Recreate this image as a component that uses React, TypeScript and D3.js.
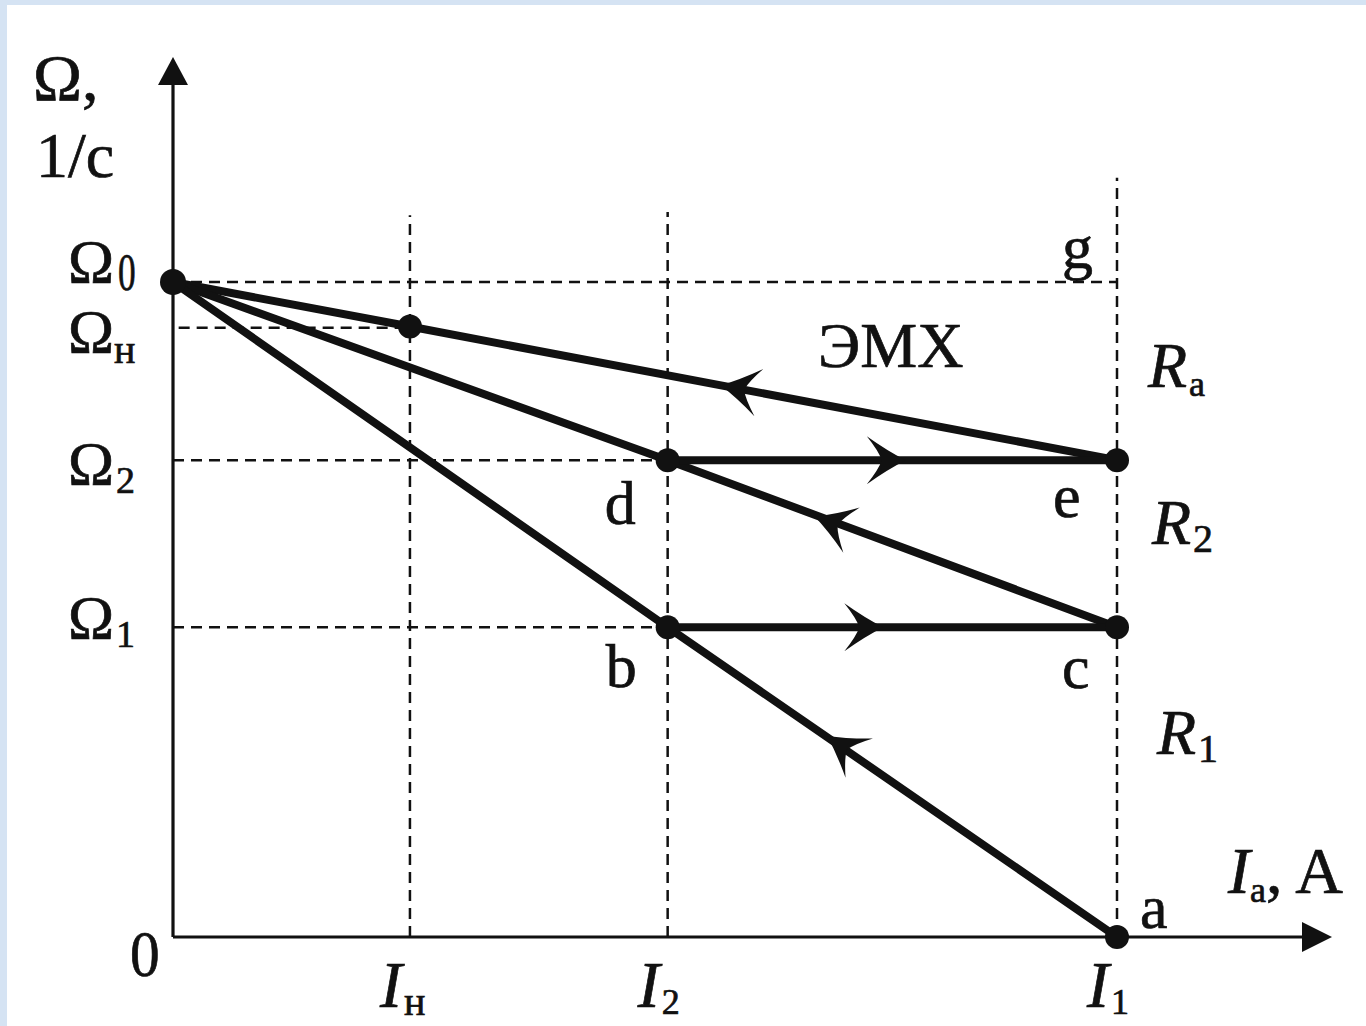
import * as d3 from 'd3';

// currents (x) in % of I1, speeds (y) in % of Ω0
const currentValues = [25.1, 52.4, 100];
const currentMain = ['I', 'I', 'I'];
const currentSubs = ['н', '2', '1'];
const currentGuideTops = [110.2, 110.7, 115.9];

const speedValues = [100, 93, 72.8, 47.3];
const speedSubs = ['0', 'н', '2', '1'];
const speedGuideEnds = [100, 25.1, 52.4, 52.4];
const speedGuideStarts = [0, 0.6, 0, 0];

// characteristics: natural (ЭМХ), R2 and R1
const naturalLine: [number, number][] = [[0, 100], [25.1, 93.2], [100, 72.8]];
const r2Line: [number, number][] = [[0, 100], [52.4, 72.8], [100, 47.3]];
const r1Line: [number, number][] = [[0, 100], [52.4, 47.3], [100, 0]];
const jumpLines: [number, number][][] = [
  [[52.4, 72.8], [100, 72.8]],
  [[52.4, 47.3], [100, 47.3]],
];

const dots: [number, number][] = [
  [25.1, 93.2], [52.4, 72.8], [52.4, 47.3], [100, 72.8], [100, 47.3], [100, 0],
];

// arrow heads: segment start, segment end, fraction along it
const arrowFrom: [number, number][] = [[100, 72.8], [52.4, 72.8], [100, 47.3], [52.4, 47.3], [100, 0]];
const arrowTo: [number, number][] = [[0, 100], [100, 72.8], [0, 100], [100, 47.3], [0, 100]];
const arrowAt = [0.42, 0.53, 0.32, 0.48, 0.307];

const pointLabels = ['a', 'b', 'c', 'd', 'e', 'g'];
const pointLabelAt: [number, number][] = [[100, 0], [52.4, 47.3], [100, 47.3], [52.4, 72.8], [100, 72.8], [100, 100]];
const pointLabelOffsets: [number, number][] = [[23, -9], [-62, 60], [-55, 61], [-63, 64], [-64, 57], [-55, -14]];

const resistorSubs = ['a', '2', '1'];
const resistorAt = [86, 60, 28];

const W = 1366;
const H = 1026;
const serif = 'Liberation Serif, DejaVu Serif, Times New Roman, serif';

export default function App() {
  const x = d3.scaleLinear().domain([0, 100]).range([173, 1117]);
  const y = d3.scaleLinear().domain([0, 100]).range([937, 282]);

  const line = d3.line<[number, number]>().x(d => x(d[0])).y(d => y(d[1]));

  const xEnd = x.invert(1332);
  const yEnd = y.invert(57);

  const arrowPath = 'M0,0 Q-18,-9 -39,-24 Q-27,-9 -24,0 Q-27,9 -39,24 Q-18,9 0,0 Z';

  return (
    <svg width={W} height={H} style={{ position: 'absolute', left: 0, top: 0, fontFamily: serif }}
      fill="#111">
      <rect width={W} height={H} fill="#d5e3f3" />
      <rect x={7} y={5} width={W - 7} height={H - 5} fill="#ffffff" />

      {/* dashed guides */}
      <g stroke="#111" strokeWidth={2.5} strokeDasharray="11,7" fill="none">
        {currentValues.map((v, i) => (
          <line key={'v' + i} x1={x(v)} x2={x(v)} y1={y(0)} y2={y(currentGuideTops[i])} />
        ))}
        {speedValues.map((v, i) => (
          <line key={'h' + i} x1={x(speedGuideStarts[i])} x2={x(speedGuideEnds[i])} y1={y(v)} y2={y(v)} />
        ))}
      </g>

      {/* axes */}
      <g stroke="#111" strokeWidth={3.2}>
        <line x1={x(0)} x2={x(xEnd) - 20} y1={y(0)} y2={y(0)} />
        <line x1={x(0)} x2={x(0)} y1={y(0)} y2={y(yEnd) + 20} />
      </g>
      <path d={`M${x(xEnd)},${y(0)} l-30,-15 l0,30 Z`} fill="#111" />
      <path d={`M${x(0)},${y(yEnd)} l-15,28 l30,0 Z`} fill="#111" />

      {/* characteristics */}
      <g stroke="#111" strokeWidth={8} fill="none" strokeLinejoin="round">
        {[naturalLine, r2Line, r1Line, ...jumpLines].map((pts, i) => (
          <path key={i} d={line(pts) || ''} />
        ))}
      </g>

      {arrowAt.map((t, i) => {
        const [x0, y0] = [x(arrowFrom[i][0]), y(arrowFrom[i][1])];
        const [x1, y1] = [x(arrowTo[i][0]), y(arrowTo[i][1])];
        const px = x0 + (x1 - x0) * t;
        const py = y0 + (y1 - y0) * t;
        const ang = (Math.atan2(y1 - y0, x1 - x0) * 180) / Math.PI;
        return <path key={i} d={arrowPath} transform={`translate(${px},${py}) rotate(${ang})`} fill="#111" />;
      })}

      <circle cx={x(0)} cy={y(100)} r={13} fill="#111" />
      {dots.map((d, i) => (
        <circle key={i} cx={x(d[0])} cy={y(d[1])} r={12} fill="#111" />
      ))}

      <g stroke="#111" strokeWidth={0.7}>
        {/* y axis title */}
        <text x={33} y={100} fontSize={66}>Ω,</text>
        <text x={36} y={177} fontSize={64}>1/с</text>

        {/* speed labels */}
        {speedValues.map((v, i) => (
          <g key={'s' + i}>
            <text x={68} y={y(v) + [0, 24, 24, 11][i]} fontSize={62}>Ω</text>
            {speedSubs[i] === '0' ? (
              <text x={0} y={0} fontSize={52}
                transform={`translate(118,${y(v) + 8}) scale(0.68,1)`}>0</text>
            ) : (
              <text x={speedSubs[i] === 'н' ? 114 : 116} y={y(v) + [0, 35, 33, 20][i]}
                fontSize={speedSubs[i] === 'н' ? 40 : 38}>
                {speedSubs[i]}
              </text>
            )}
          </g>
        ))}

        {/* origin */}
        <text x={0} y={0} fontSize={66} transform={`translate(130,${y(0) + 39}) scale(0.9,1)`}>0</text>

        {/* current labels */}
        {currentValues.map((v, i) => (
          <g key={'c' + i}>
            <text x={x(v) - 30} y={1007} fontSize={66} fontStyle="italic">{currentMain[i]}</text>
            <text x={x(v) - 6} y={currentSubs[i] === 'н' ? 1015 : 1014} fontSize={currentSubs[i] === 'н' ? 40 : 36}>
              {currentSubs[i]}
            </text>
          </g>
        ))}

        {/* x axis title */}
        <text x={1228} y={893} fontSize={66}>
          <tspan fontStyle="italic">I</tspan>
          <tspan fontSize={36} dy={9}>a</tspan>
          <tspan dy={-9}>, A</tspan>
        </text>

        {/* point labels */}
        {pointLabels.map((s, i) => (
          <text key={s} x={x(pointLabelAt[i][0]) + pointLabelOffsets[i][0]}
            y={y(pointLabelAt[i][1]) + pointLabelOffsets[i][1]} fontSize={62}>{s}</text>
        ))}

        <text x={818} y={367} fontSize={64}>ЭМХ</text>

        {/* resistor labels */}
        {resistorAt.map((v, i) => (
          <text key={'r' + i} x={x(100) + [31, 35, 40][i]} y={y(v) + [13, 0, 0][i]} fontSize={64}>
            <tspan fontStyle="italic">R</tspan>
            <tspan fontSize={i === 0 ? 36 : 40} dx={2} dy={i === 0 ? 9 : 8}>{resistorSubs[i]}</tspan>
          </text>
        ))}
      </g>
    </svg>
  );
}
